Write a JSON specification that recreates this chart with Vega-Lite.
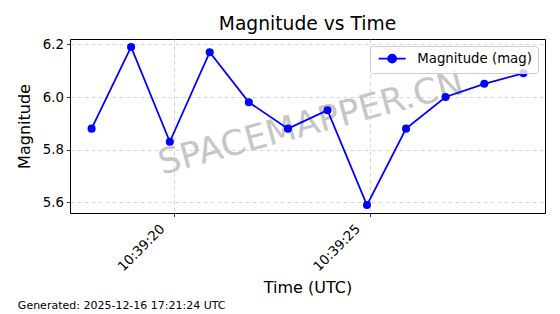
{
  "$schema": "https://vega.github.io/schema/vega-lite/v6.json",
  "padding": {"left": 15, "top": 14, "right": 5, "bottom": 3},
  "background": "white",
  "title": {"text": "Generated: 2025-12-16 17:21:24 UTC", "orient": "bottom", "anchor": "start", "fontSize": 11, "fontWeight": "normal", "font": "DejaVu Sans", "color": "black", "offset": 4, "dx": 2},
  "config": {
    "font": "DejaVu Sans",
    "view": {"stroke": "black", "strokeWidth": 1},
    "axis": {"domain": false, "grid": true, "gridDash": [4, 3], "gridColor": "#cccccc", "gridWidth": 0.8, "tickColor": "black", "tickSize": 3.5, "tickWidth": 0.8, "labelColor": "black", "labelFontSize": 13.3, "titleColor": "black", "titleFontSize": 16, "titleFontWeight": "normal", "labelFont": "DejaVu Sans", "titleFont": "DejaVu Sans"}
  },
  "vconcat": [
    {
      "title": {"text": "Magnitude vs Time", "fontSize": 18.7, "fontWeight": "normal", "font": "DejaVu Sans", "color": "black", "offset": 4, "anchor": "middle"},
      "width": 475,
      "height": 174,
      "layer": [
        {
          "data": {"values": [{"label": "SPACEMAPPER.CN"}]},
          "mark": {"type": "text", "angle": 345, "fontSize": 35, "color": "#c6c6c6", "align": "center", "baseline": "middle", "font": "DejaVu Sans"},
          "encoding": {
            "x": {"datum": {"year": 2025, "month": 12, "date": 16, "hours": 10, "minutes": 39, "seconds": 23, "milliseconds": 500, "utc": true}, "type": "temporal", "title": "Time (UTC)"},
            "y": {"datum": 5.9, "type": "quantitative", "title": "Magnitude"},
            "text": {"field": "label"}
          }
        },
        {
          "data": {"values": [
            {"time": "2025-12-16T10:39:17.890Z", "magnitude": 5.88, "series": "Magnitude (mag)"},
            {"time": "2025-12-16T10:39:18.900Z", "magnitude": 6.19, "series": "Magnitude (mag)"},
            {"time": "2025-12-16T10:39:19.890Z", "magnitude": 5.83, "series": "Magnitude (mag)"},
            {"time": "2025-12-16T10:39:20.910Z", "magnitude": 6.17, "series": "Magnitude (mag)"},
            {"time": "2025-12-16T10:39:21.910Z", "magnitude": 5.98, "series": "Magnitude (mag)"},
            {"time": "2025-12-16T10:39:22.910Z", "magnitude": 5.88, "series": "Magnitude (mag)"},
            {"time": "2025-12-16T10:39:23.920Z", "magnitude": 5.95, "series": "Magnitude (mag)"},
            {"time": "2025-12-16T10:39:24.930Z", "magnitude": 5.59, "series": "Magnitude (mag)"},
            {"time": "2025-12-16T10:39:25.930Z", "magnitude": 5.88, "series": "Magnitude (mag)"},
            {"time": "2025-12-16T10:39:26.940Z", "magnitude": 6.0, "series": "Magnitude (mag)"},
            {"time": "2025-12-16T10:39:27.930Z", "magnitude": 6.05, "series": "Magnitude (mag)"},
            {"time": "2025-12-16T10:39:28.930Z", "magnitude": 6.09, "series": "Magnitude (mag)"}
          ]},
          "mark": {"type": "line", "strokeWidth": 1.8, "point": {"filled": true, "size": 65, "opacity": 1}},
          "encoding": {
            "x": {
              "field": "time", "type": "temporal", "title": "Time (UTC)",
              "scale": {"type": "utc", "domain": [
                {"year": 2025, "month": 12, "date": 16, "hours": 10, "minutes": 39, "seconds": 17, "milliseconds": 338, "utc": true},
                {"year": 2025, "month": 12, "date": 16, "hours": 10, "minutes": 39, "seconds": 29, "milliseconds": 482, "utc": true}
              ]},
              "axis": {
                "values": [
                  {"year": 2025, "month": 12, "date": 16, "hours": 10, "minutes": 39, "seconds": 20, "utc": true},
                  {"year": 2025, "month": 12, "date": 16, "hours": 10, "minutes": 39, "seconds": 25, "utc": true}
                ],
                "format": "%H:%M:%S", "labelAngle": -45, "labelAlign": "right", "labelBaseline": "middle", "labelOffset": -12, "labelPadding": 10, "titlePadding": 6
              }
            },
            "y": {
              "field": "magnitude", "type": "quantitative", "title": "Magnitude",
              "scale": {"domain": [5.56, 6.22], "zero": false, "nice": false},
              "axis": {"values": [5.6, 5.8, 6.0, 6.2], "format": ".1f", "titlePadding": 10, "labelPadding": 3}
            },
            "color": {
              "field": "series", "type": "nominal", "scale": {"range": ["#0000ff"]},
              "legend": {
                "title": null, "orient": "top-right", "offset": 7, "padding": 6,
                "fillColor": "rgba(255,255,255,0.8)", "strokeColor": "#cccccc", "cornerRadius": 3,
                "labelFontSize": 13.3, "labelColor": "black", "labelFont": "DejaVu Sans",
                "symbolType": "M -2.7 0 L 2.7 0 M 0.8 0 A 0.8 0.8 0 1 1 -0.8 0 A 0.8 0.8 0 1 1 0.8 0 Z",
                "symbolSize": 100, "symbolOffset": 9.5, "labelOffset": 18.5,
                "symbolStrokeWidth": 1.8, "symbolFillColor": "#0000ff", "symbolStrokeColor": "#0000ff", "symbolOpacity": 1
              }
            }
          }
        }
      ]
    }
  ]
}
